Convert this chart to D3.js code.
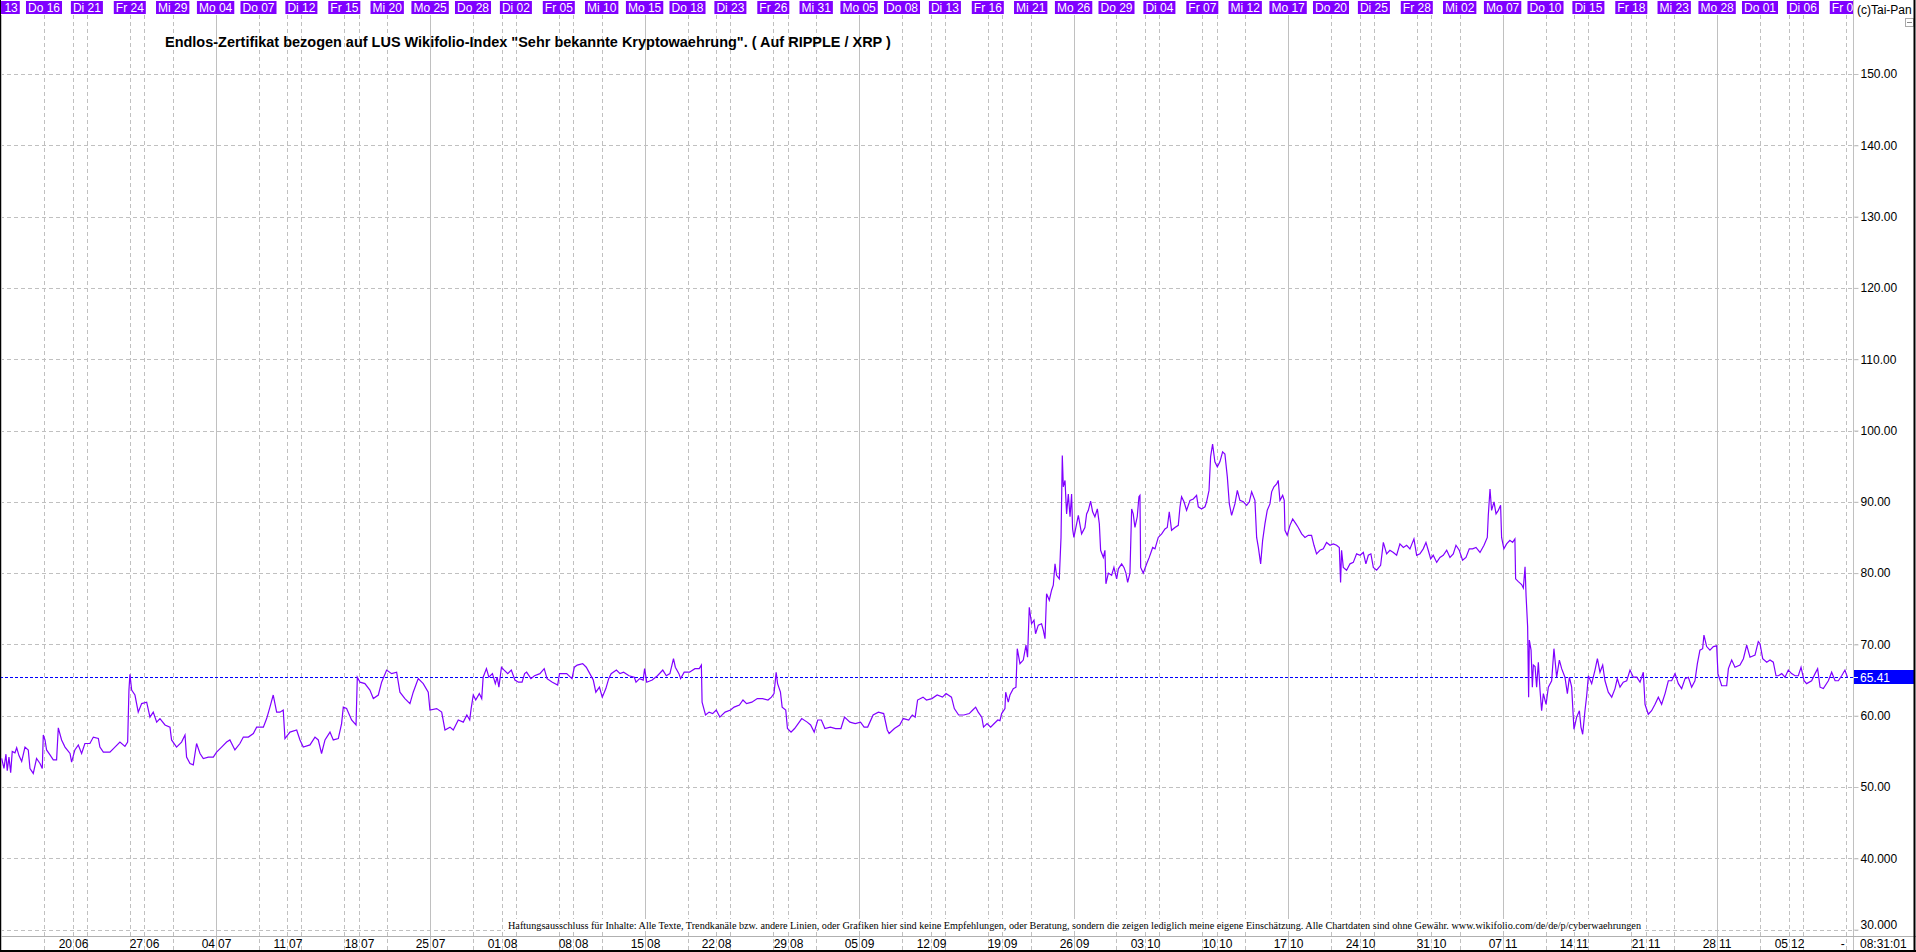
<!DOCTYPE html>
<html><head><meta charset="utf-8">
<script src="https://cdn.jsdelivr.net/npm/d3@7"></script>
<style>
html,body{margin:0;padding:0;background:#fff;overflow:hidden}
svg{display:block;font-family:"Liberation Sans",Arial,sans-serif}
</style></head><body>
<svg id="c" width="1916" height="952"></svg>
<script>
// ---------------- DATA ----------------
const titleText = 'Endlos-Zertifikat bezogen auf LUS Wikifolio-Index "Sehr bekannte Kryptowaehrung". ( Auf RIPPLE / XRP )';
const disclaimerText = "Haftungsausschluss für Inhalte: Alle Texte, Trendkanäle bzw. andere Linien, oder Grafiken hier sind keine Empfehlungen, oder Beratung, sondern die zeigen lediglich meine eigene Einschätzung. Alle Chartdaten sind ohne Gewähr. www.wikifolio.com/de/de/p/cyberwaehrungen";
const copyrightText = "(c)Tai-Pan";
const timeStamp = "08:31:01";
const lastPrice = 65.41;
const lastPriceLabel = "65.41";

const yTicks = [150,140,130,120,110,100,90,80,70,60,50,40,30];
const yTickLabels = ["150.00","140.00","130.00","120.00","110.00","100.00","90.00","80.00","70.00","60.00","50.00","40.000","30.000"];

// top bar: every 3rd trading day starting Mon 13 June 2022 (trading day 0)
const dayLabels = ["Mo 13","Do 16","Di 21","Fr 24","Mi 29","Mo 04","Do 07","Di 12","Fr 15","Mi 20","Mo 25","Do 28","Di 02","Fr 05","Mi 10","Mo 15","Do 18","Di 23","Fr 26","Mi 31","Mo 05","Do 08","Di 13","Fr 16","Mi 21","Mo 26","Do 29","Di 04","Fr 07","Mi 12","Mo 17","Do 20","Di 25","Fr 28","Mi 02","Mo 07","Do 10","Di 15","Fr 18","Mi 23","Mo 28","Do 01","Di 06","Fr 09"];
const dayLabelStep = 3;
// bottom axis: Mondays (every 5 trading days, starting trading day 5)
const weekDays = ["20","27","04","11","18","25","01","08","15","22","29","05","12","19","26","03","10","17","24","31","07","14","21","28","05"];
const weekMonths = ["06","06","07","07","07","07","08","08","08","08","08","09","09","09","09","10","10","10","10","10","11","11","11","11","12"];
const weekStep = 5;
const lastTradingDay = 129;

// price series: position in trading days since 13 June 2022, value
const tradingDay = [
0.04,0.20,0.34,0.43,0.55,0.67,0.78,0.97,1.09,1.25,
1.44,1.67,1.90,2.02,2.25,2.48,2.72,2.88,2.95,3.07,
3.18,3.42,3.65,3.88,4.00,4.23,4.47,4.82,4.93,5.16,
5.40,5.63,5.86,6.21,6.45,6.80,6.91,7.15,7.61,7.96,
8.31,8.66,8.85,8.94,9.01,9.13,9.36,9.59,9.83,10.18,
10.41,10.64,10.88,11.11,11.46,11.81,11.92,12.27,12.62,12.86,
12.97,13.21,13.44,13.67,13.91,14.14,14.49,14.84,15.07,15.42,
15.77,16.00,16.35,16.70,16.94,17.29,17.64,17.87,18.34,18.57,
18.80,19.03,19.27,19.50,19.73,19.85,20.20,20.67,20.90,21.13,
21.60,21.95,22.18,22.41,22.65,23.00,23.23,23.58,23.81,23.93,
24.16,24.51,24.82,24.91,25.10,25.44,25.79,26.03,26.38,26.61,
26.96,27.31,27.66,27.89,28.24,28.59,28.82,29.17,29.52,29.87,
29.99,30.46,30.81,31.04,31.39,31.62,31.97,
32.32,32.57,32.77,32.87,33.02,33.19,33.44,33.61,33.71,33.94,
34.11,34.36,34.56,34.69,34.81,34.99,35.18,35.43,35.68,35.93,
36.18,36.43,36.61,36.75,37.05,37.30,37.68,37.98,38.18,38.55,
38.92,39.05,39.55,39.92,40.09,40.29,40.67,40.92,41.17,41.41,
41.59,41.84,42.04,42.29,42.49,42.66,43.03,43.28,43.53,43.91,
44.28,44.40,44.65,44.90,45.00,45.15,45.53,45.90,46.27,46.52,
46.77,47.02,47.15,47.40,47.52,47.77,48.14,48.52,48.82,48.97,
49.02,49.26,49.51,49.76,50.01,50.26,50.63,51.01,51.26,51.63,
51.88,52.13,52.50,52.88,53.25,53.63,53.87,54.05,54.20,54.30,
54.50,54.62,54.87,54.99,55.24,55.49,55.74,55.99,56.37,56.61,
56.86,57.11,57.36,57.61,57.99,58.36,58.73,58.98,59.36,59.73,
60.10,60.35,60.60,60.98,61.35,61.72,61.97,62.10,62.47,62.84,
63.09,63.47,63.72,63.92,64.09,64.47,64.71,65.09,65.46,65.83,
66.08,66.46,66.66,66.96,67.33,67.70,67.95,68.15,68.33,68.58,
68.70,68.95,69.20,69.45,69.70,
69.85,69.97,70.20,70.25,70.43,70.55,70.78,70.97,71.06,71.25,
71.48,71.67,71.78,71.90,72.06,72.23,72.34,72.53,72.76,72.88,
73.00,73.11,73.30,73.46,73.58,73.70,73.81,74.00,74.12,74.21,
74.28,74.40,74.51,74.63,74.75,74.86,74.93,75.02,75.21,75.33,
75.56,75.79,75.91,76.03,76.19,76.33,76.49,76.66,76.80,76.89,
77.08,77.19,77.26,77.43,77.66,77.82,78.01,78.13,78.36,78.52,
78.66,78.78,78.94,79.06,79.17,79.29,79.45,79.57,79.64,79.69,
79.87,80.11,80.29,80.53,80.69,80.92,81.16,81.39,81.55,81.69,
81.85,82.09,82.32,82.44,82.55,82.72,82.90,83.14,83.37,83.60,
83.72,83.95,84.19,84.30,84.47,84.58,84.72,84.88,85.05,85.23,
85.42,85.58,85.75,85.89,86.05,86.28,86.45,86.63,86.87,87.10,
87.29,87.45,87.68,87.80,87.92,88.08,88.22,88.38,88.54,88.73,
88.85,89.01,89.20,89.31,89.43,89.62,89.73,89.78,89.94,90.13,
90.32,90.55,90.71,90.95,91.18,91.41,91.64,91.81,91.99,92.23,
92.46,92.69,92.93,93.16,93.39,93.58,93.67,93.74,93.86,94.09,
94.33,94.56,94.79,95.03,95.26,95.44,95.61,95.79,95.96,96.19,
96.47,96.66,96.89,97.12,97.36,97.59,97.82,98.06,98.29,98.52,
98.80,98.99,99.22,99.45,99.64,99.80,99.97,100.15,100.39,100.62,
100.85,101.09,101.32,101.55,101.74,101.97,102.20,102.44,102.67,102.90,
103.14,103.42,103.70,103.93,104.00,104.12,104.23,104.40,104.54,104.70,
104.86,104.93,105.09,105.28,105.51,105.70,105.86,105.91,
106.10,106.33,106.45,106.57,106.64,106.75,106.82,106.87,106.99,107.08,
107.15,107.27,107.38,107.50,107.62,107.73,107.85,108.04,108.20,108.43,
108.59,108.78,108.97,109.13,109.36,109.53,109.67,109.83,109.99,110.18,
110.37,110.48,110.60,110.76,110.88,111.00,111.23,111.46,111.63,111.81,
112.00,112.16,112.39,112.63,112.86,113.02,113.21,113.44,113.68,113.91,
114.14,114.38,114.61,114.84,114.96,115.19,115.42,115.66,115.89,116.12,
116.36,116.59,116.82,117.06,117.29,117.52,117.76,117.99,118.22,118.45,
118.62,118.80,118.99,119.08,119.27,119.50,119.74,119.97,120.06,120.32,
120.67,120.79,121.02,121.25,121.60,121.84,122.07,122.30,122.65,122.88,
123.00,123.19,123.47,123.70,123.93,124.12,124.28,124.52,124.75,124.98,
125.21,125.45,125.68,125.87,126.08,126.26,126.61,126.85,127.03,127.20,
127.43,127.78,128.01,128.25,128.48,128.71,128.94,129.11
];
const price = [
54.0,52.6,54.6,52.3,54.2,52.0,55.0,54.8,55.5,54.4,
53.6,55.6,55.2,52.6,51.9,54.0,53.3,52.6,57.3,56.6,
55.2,54.5,53.8,53.8,58.3,56.6,55.6,54.7,53.5,55.2,
55.9,54.7,56.1,56.1,57.0,56.8,55.6,54.9,54.9,55.6,
56.3,55.7,56.3,63.6,65.8,63.6,62.9,60.5,61.7,61.9,
59.8,60.5,59.1,59.6,58.7,58.4,56.6,55.6,56.3,57.3,
54.2,53.3,53.1,56.1,54.7,54.0,54.2,54.2,54.9,55.6,
56.3,56.6,55.2,56.1,57.0,57.0,57.5,58.4,58.4,59.6,
61.2,62.9,60.5,60.5,60.8,56.8,57.7,58.0,56.6,55.6,
55.9,57.0,56.6,54.7,56.6,57.7,56.6,56.8,58.9,61.2,
61.0,59.4,58.7,65.4,64.7,64.5,63.6,62.4,62.9,64.7,
66.4,65.9,66.1,63.3,62.4,61.7,63.3,65.2,64.5,63.3,
60.8,61.0,60.5,58.0,58.4,58.0,59.4,
59.1,60.1,59.4,61.0,62.9,62.2,63.1,62.4,65.4,66.6,
65.4,65.9,64.5,65.4,64.0,66.8,66.4,65.9,66.4,65.0,
64.7,64.7,65.9,66.1,65.2,65.6,65.9,66.6,65.2,64.7,
64.3,65.9,65.9,65.2,66.8,67.1,67.3,66.8,65.9,65.0,
63.3,64.0,62.6,63.8,65.2,65.9,66.4,65.9,66.1,65.6,
65.4,64.7,65.2,65.0,66.6,64.7,65.0,65.6,66.4,65.6,
65.9,68.0,66.8,65.9,65.2,66.1,66.1,66.6,66.6,67.1,
61.9,60.1,60.5,60.3,60.8,59.8,60.5,60.8,61.2,61.5,
62.2,61.7,61.9,62.4,62.4,62.2,62.6,63.1,66.1,64.5,
63.3,61.2,60.8,58.2,57.7,58.2,58.9,59.6,59.1,58.7,
57.7,59.4,59.4,58.2,58.4,58.2,58.2,59.8,59.1,58.9,
59.1,58.4,58.4,60.1,60.5,60.3,58.0,57.5,58.2,58.7,
59.6,59.4,60.1,59.8,62.2,62.6,62.2,62.4,62.9,62.6,
63.1,62.6,61.0,60.1,60.1,60.3,60.8,61.2,60.5,59.8,
58.4,58.9,58.4,58.9,59.4,
59.3,60.3,61.0,63.3,61.9,62.9,63.8,64.0,69.4,67.3,
67.8,69.9,68.2,75.2,72.9,73.4,71.5,72.7,72.9,72.0,
70.8,77.1,76.2,77.6,78.3,81.3,79.7,79.2,85.0,96.5,
92.1,93.0,88.3,91.1,87.9,91.1,86.2,85.0,86.9,88.1,
85.5,86.4,88.3,88.8,90.1,88.6,87.9,89.0,86.9,83.2,
82.2,83.2,78.5,80.0,79.7,80.8,79.2,80.6,81.3,80.8,
80.0,78.7,80.0,89.0,88.3,86.4,87.9,90.7,90.9,80.8,
80.0,81.3,82.2,83.6,83.4,85.0,85.5,86.2,86.4,88.6,
86.0,86.4,86.7,89.3,90.7,90.0,88.8,90.2,90.4,90.9,
89.3,89.0,89.3,90.0,91.6,96.3,98.1,95.6,94.9,95.6,
97.0,96.7,93.5,89.7,88.1,89.7,91.6,90.2,90.0,89.5,
90.0,91.4,90.2,85.0,83.6,81.3,84.6,86.9,88.8,89.7,
91.4,92.1,92.5,93.0,90.2,90.9,90.2,86.0,85.3,86.7,
87.6,86.9,86.4,85.5,85.0,85.3,85.3,83.9,82.7,83.2,
83.4,84.3,83.9,84.1,83.9,83.6,78.7,83.2,80.8,80.4,
81.3,81.5,82.7,82.5,82.9,81.3,82.5,82.7,80.8,80.4,
81.1,84.3,82.7,83.2,82.9,82.5,84.1,83.6,83.9,83.4,
84.8,82.5,82.7,83.4,84.3,83.2,82.0,82.5,81.5,82.2,
82.5,83.2,82.2,82.7,83.9,83.2,81.8,82.2,83.4,83.4,
83.6,82.9,83.9,85.0,88.1,91.8,88.8,90.0,88.3,88.8,
89.5,85.0,83.4,84.1,84.6,84.3,84.8,79.2,
78.8,78.4,77.9,80.9,76.9,72.5,62.6,70.6,69.2,64.0,
67.1,66.9,64.0,67.5,63.5,60.7,63.1,61.6,64.0,64.9,
69.4,65.4,67.8,66.6,65.4,63.1,65.4,64.0,58.1,59.8,
60.7,58.4,57.4,60.7,62.8,65.6,64.5,66.4,68.0,66.1,
67.1,64.9,63.3,62.6,63.8,65.2,64.0,64.7,64.9,66.4,
65.4,65.4,64.7,66.1,61.6,60.2,60.7,61.6,62.6,61.6,
63.1,64.9,64.9,65.9,64.5,63.8,65.2,65.4,64.0,64.9,
67.3,69.2,69.4,71.3,69.7,69.2,69.7,69.8,65.9,64.2,
64.2,66.6,67.8,66.8,67.1,68.0,69.9,68.2,68.5,70.4,
70.1,68.0,67.5,67.8,67.5,65.6,65.6,65.9,65.4,66.4,
65.9,65.6,65.6,66.8,64.9,64.5,64.9,65.9,66.6,64.0,
63.8,64.9,66.1,64.9,64.9,65.6,66.4,65.41
];

// ---------------- CHART ----------------
const W = 1916, H = 952;
const plotRight = 1853, plotTop = 15, rowTop = 936;
const purple = "#8000ff", grid = "#c0c0c0";
const svg = d3.select("#c");
const px = v => Math.round(v) + 0.5;

const x = d3.scaleLinear().domain([0, lastTradingDay]).range([1.1, 1845.8]);
const y = d3.scaleLinear().domain([40, 150]).range([858.3, 74]);

svg.append("rect").attr("width", W).attr("height", H).attr("fill", "#fff");

// vertical grid: every 3rd and every 5th trading day, solid every 15th
const gridIdx = d3.range(0, lastTradingDay + 1).filter(i => i % 3 === 0 || i % 5 === 0);
svg.append("g").selectAll("line").data(gridIdx).join("line")
  .attr("x1", d => px(x(d))).attr("x2", d => px(x(d)))
  .attr("y1", plotTop).attr("y2", H - 1)
  .attr("stroke", grid).attr("stroke-width", 1)
  .attr("stroke-dasharray", d => d % 15 === 0 ? null : "4,3");

// horizontal grid
svg.append("g").selectAll("line").data(yTicks).join("line")
  .attr("x1", 0).attr("x2", plotRight + 5)
  .attr("y1", d => px(y(d))).attr("y2", d => px(y(d)))
  .attr("stroke", grid).attr("stroke-dasharray", "4,3");

// disclaimer (with white backing)
const disc = svg.append("g");
disc.append("rect").attr("x", 505).attr("y", 919).attr("width", 1139).attr("height", 12).attr("fill", "#fff");
disc.append("text").attr("x", 508).attr("y", 929)
  .attr("font-family", "'Liberation Serif','Times New Roman',serif").attr("font-size", 11)
  .attr("textLength", 1133).attr("lengthAdjust", "spacingAndGlyphs")
  .attr("fill", "#000").text(disclaimerText);

// last price dashed line
svg.append("line").attr("x1", 0).attr("x2", plotRight)
  .attr("y1", px(y(lastPrice))).attr("y2", px(y(lastPrice)))
  .attr("stroke", "#0000ff").attr("stroke-dasharray", "3,2");

// price line
svg.append("clipPath").attr("id", "plotClip").append("rect")
  .attr("x", 0).attr("y", plotTop).attr("width", plotRight).attr("height", rowTop - plotTop);
const line = d3.line().x(i => x(tradingDay[i])).y(i => y(price[i])).curve(d3.curveLinear);
svg.append("path").attr("clip-path", "url(#plotClip)")
  .attr("d", line(d3.range(price.length)))
  .attr("fill", "none").attr("stroke", purple).attr("stroke-width", 1.2)
  .attr("stroke-linejoin", "miter");

// title
const title = svg.append("text").attr("x", 165).attr("y", 47)
  .attr("font-weight", "bold").attr("font-size", 13).attr("fill", "#000").text(titleText);
const tw = title.node().getComputedTextLength();
title.attr("font-size", 13 * 726 / tw);

// right axis
svg.append("line").attr("x1", plotRight + 0.5).attr("x2", plotRight + 0.5).attr("y1", 0).attr("y2", H)
  .attr("stroke", grid);
const yAxis = svg.append("g").attr("transform", `translate(${plotRight + 0.5},0)`)
  .call(d3.axisRight(y).tickValues(yTicks).tickSize(5).tickPadding(2)
    .tickFormat(d => yTickLabels[yTicks.indexOf(d)]));
yAxis.select(".domain").remove();
yAxis.selectAll(".tick line").attr("stroke", grid);
yAxis.selectAll(".tick text").attr("font-size", 12).attr("fill", "#000")
  .attr("font-family", "'Liberation Sans',Arial,sans-serif")
  .attr("y", d => d === 30 ? -4.5 : 0);

// last price tag
const ly = Math.round(y(lastPrice));
svg.append("rect").attr("x", plotRight + 1).attr("y", ly - 7).attr("width", W - plotRight - 2).attr("height", 14)
  .attr("fill", "#0000ff");
svg.append("line").attr("x1", plotRight + 1).attr("x2", plotRight + 5).attr("y1", ly + 0.5).attr("y2", ly + 0.5)
  .attr("stroke", "#fff");
svg.append("text").attr("x", plotRight + 7).attr("y", ly + 4.5).attr("font-size", 12).attr("fill", "#fff").text(lastPriceLabel);

// top bar labels
svg.append("clipPath").attr("id", "topClip").append("rect")
  .attr("x", 0).attr("y", 0).attr("width", plotRight).attr("height", plotTop);
const topG = svg.append("g").attr("clip-path", "url(#topClip)");
const tl = topG.selectAll("g").data(dayLabels).join("g")
  .attr("transform", (d, k) => `translate(${x(k * dayLabelStep)},0)`);
tl.append("text").attr("text-anchor", "middle").attr("y", 12).attr("font-size", 12).attr("fill", "#fff").text(d => d);
tl.each(function () {
  const g = d3.select(this);
  const w = g.select("text").node().getComputedTextLength();
  g.insert("rect", "text").attr("x", -w / 2 - 2).attr("y", 1).attr("width", w + 4).attr("height", 13).attr("fill", purple);
});

svg.append("text").attr("x", plotRight + 4).attr("y", 14).attr("font-size", 12).attr("fill", "#000").text(copyrightText);
svg.append("rect").attr("x", 1905.5).attr("y", 18.5).attr("width", 8).attr("height", 8).attr("fill", "#fff").attr("stroke", "#aaa");
svg.append("line").attr("x1", 1907).attr("x2", 1912).attr("y1", 22.5).attr("y2", 22.5).attr("stroke", "#888");

// bottom row
svg.append("line").attr("x1", 0).attr("x2", W).attr("y1", rowTop + 0.5).attr("y2", rowTop + 0.5).attr("stroke", "#b0b0b0");
const wk = svg.append("g").selectAll("g").data(weekDays).join("g")
  .attr("transform", (d, k) => `translate(${px(x((k + 1) * weekStep))},948)`)
  .attr("font-size", 12).attr("fill", "#000");
wk.append("text").attr("x", -1.5).attr("text-anchor", "end").text(d => d);
wk.append("text").attr("x", 1.5).attr("text-anchor", "start").text((d, k) => weekMonths[k]);
svg.append("text").attr("x", x(lastTradingDay) - 3).attr("y", 948).attr("text-anchor", "middle").attr("font-size", 12).text("-");
svg.append("text").attr("x", plotRight + 7).attr("y", 948).attr("font-size", 12).attr("fill", "#000").text(timeStamp);

// frame
svg.append("line").attr("x1", 0.5).attr("x2", 0.5).attr("y1", 0).attr("y2", H).attr("stroke", "#000");
svg.append("line").attr("x1", W - 1.5).attr("x2", W - 1.5).attr("y1", 0).attr("y2", H).attr("stroke", "#000").attr("stroke-width", 2);
svg.append("line").attr("x1", 0).attr("x2", W).attr("y1", H - 1).attr("y2", H - 1).attr("stroke", "#000").attr("stroke-width", 2);
</script>
</body></html>
